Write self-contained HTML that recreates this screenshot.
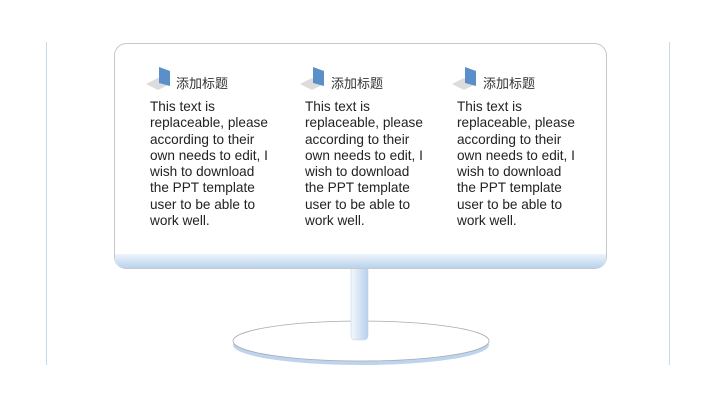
<!DOCTYPE html>
<html><head><meta charset="utf-8"><style>
body{margin:0;width:720px;height:405px;background:#fff;position:relative;overflow:hidden;font-family:"Liberation Sans","Noto Sans CJK SC",sans-serif}
.vl{position:absolute;top:42px;width:1px;height:323px;background:#c5d9ee}
.col{position:absolute;top:70px;width:160px}
.t{position:absolute;left:26px;top:3px;font-size:13px;color:#333;white-space:nowrap}
.b{position:absolute;left:0;top:29px;font-size:13.6px;line-height:16.3px;color:#222;white-space:nowrap}
</style></head><body>
<div class="vl" style="left:46px"></div>
<div class="vl" style="left:669px"></div>
<svg width="720" height="405" style="position:absolute;left:0;top:0">
<defs>
<linearGradient id="g1" x1="0" y1="0" x2="0" y2="1"><stop offset="0" stop-color="#eef4fb"/><stop offset="1" stop-color="#b9d2ee"/></linearGradient>
<linearGradient id="g2" x1="0" y1="0" x2="1" y2="0"><stop offset="0" stop-color="#f4f8fc"/><stop offset="1" stop-color="#b8d0ec"/></linearGradient>
</defs>
<ellipse cx="361" cy="345" rx="128" ry="20" fill="#bcd4ef"/>
<ellipse cx="361" cy="341" rx="128" ry="20" fill="#fff" stroke="#aaa" stroke-width="0.8"/>
<rect x="351" y="266" width="17" height="74" rx="4" fill="url(#g2)" stroke="#c0d4ea" stroke-width="0.6"/>
<rect x="114.5" y="43.5" width="492" height="225" rx="12" fill="#fff" stroke="#c8c8c8"/>
<path d="M115 254 H606 V258 Q606 268 596 268 H125 Q115 268 115 258Z" fill="url(#g1)"/>
<g id="ic"><path d="M146 84 L158 78 L170 84 L158 90Z" fill="#dcdcdc"/><path d="M159 67 L170 71 L170 86 L159 83Z" fill="#5b8fc9"/></g>
<use href="#ic" x="154"/><use href="#ic" x="306"/>
</svg>
<div class="col" style="left:150px"><div class="t">添加标题</div><div class="b">This text is<br>replaceable, please<br>according to their<br>own needs to edit, I<br>wish to download<br>the PPT template<br>user to be able to<br>work well.</div></div>
<div class="col" style="left:305px"><div class="t">添加标题</div><div class="b">This text is<br>replaceable, please<br>according to their<br>own needs to edit, I<br>wish to download<br>the PPT template<br>user to be able to<br>work well.</div></div>
<div class="col" style="left:457px"><div class="t">添加标题</div><div class="b">This text is<br>replaceable, please<br>according to their<br>own needs to edit, I<br>wish to download<br>the PPT template<br>user to be able to<br>work well.</div></div>
</body></html>
